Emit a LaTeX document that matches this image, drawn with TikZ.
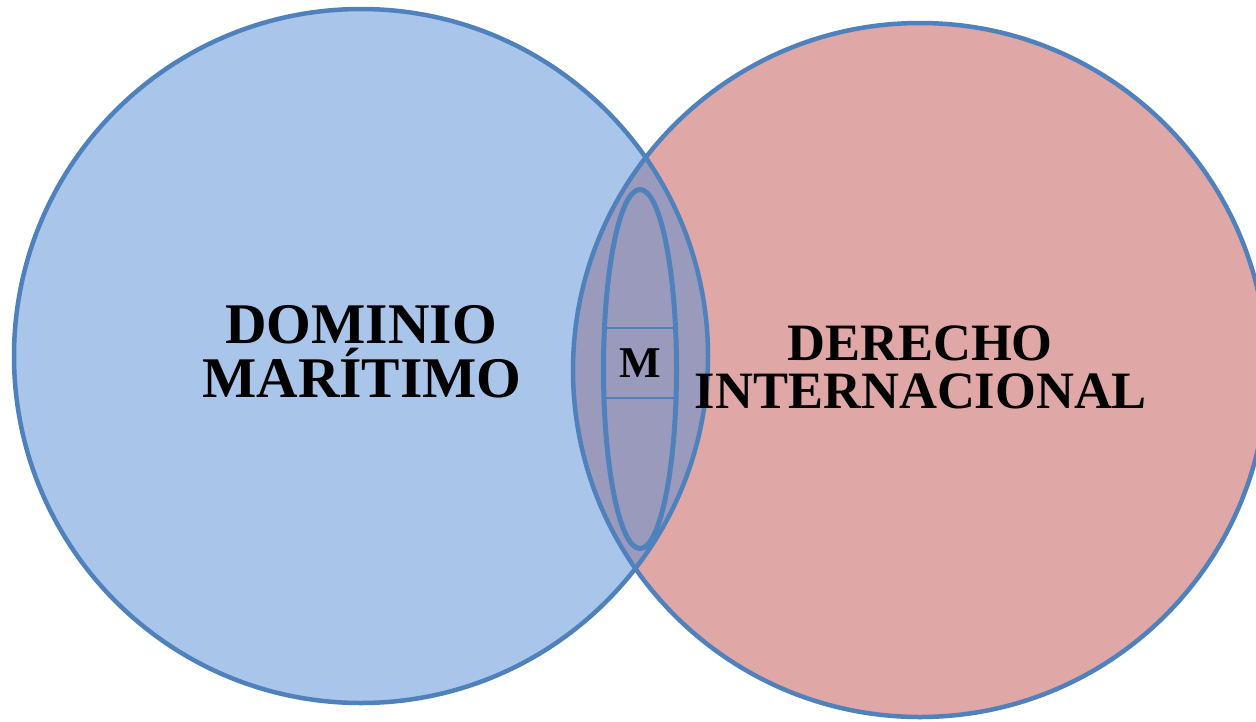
\documentclass[tikz,border=0pt]{standalone}
\usepackage{fontspec}
\setmainfont{Liberation Serif}
\usetikzlibrary{shapes.geometric}
\definecolor{edgeblue}{HTML}{4F81BD}
\definecolor{leftfill}{HTML}{A9C5E9}
\definecolor{rightfill}{HTML}{DFA7A6}
\definecolor{midfill}{HTML}{9A9ABD}
\begin{document}
\begin{tikzpicture}[x=1pt,y=-1pt,
  setcircle/.style={circle, minimum size=694pt, inner sep=0pt, draw=edgeblue, line width=4.5pt},
  bigleft/.style={anchor=base, inner sep=0pt, font=\bfseries\fontsize{57.5}{57.5}\selectfont},
  bigright/.style={anchor=base, inner sep=0pt, font=\bfseries\fontsize{52.5}{52.5}\selectfont},
  mbox/.style={rectangle, draw=edgeblue, line width=1.5pt, minimum width=72pt, minimum height=70pt, inner sep=0pt, font=\bfseries\fontsize{44}{44}\selectfont},
  lens/.style={ellipse, draw=edgeblue, line width=5pt, minimum width=73pt, minimum height=359pt, inner sep=0pt}]
\useasboundingbox (0,0) rectangle (1256,721);
\begin{scope}
  \clip (0,0) rectangle (1256,721);
  \path[fill=rightfill] (920,370) circle[radius=347];
  \path[fill=leftfill] (361,356) circle[radius=347];
  \begin{scope}
    \clip (920,370) circle[radius=347];
    \path[fill=midfill] (361,356) circle[radius=347];
  \end{scope}
  \node[setcircle] (dm) at (361,356) {};
  \node[setcircle] (di) at (920,370) {};
\end{scope}
\node[mbox] (m) at (640,363) {M};
\node[lens] (lensnode) at (640,369) {};
\node[bigleft] (dm1) at (361,343) {DOMINIO};
\node[bigleft] (dm2) at (362,397) {MARÍTIMO};
\node[bigright] (di1) at (920,360) {DERECHO};
\node[bigright] (di2) at (921,408) {INTERNACIONAL};
\end{tikzpicture}
\end{document}
